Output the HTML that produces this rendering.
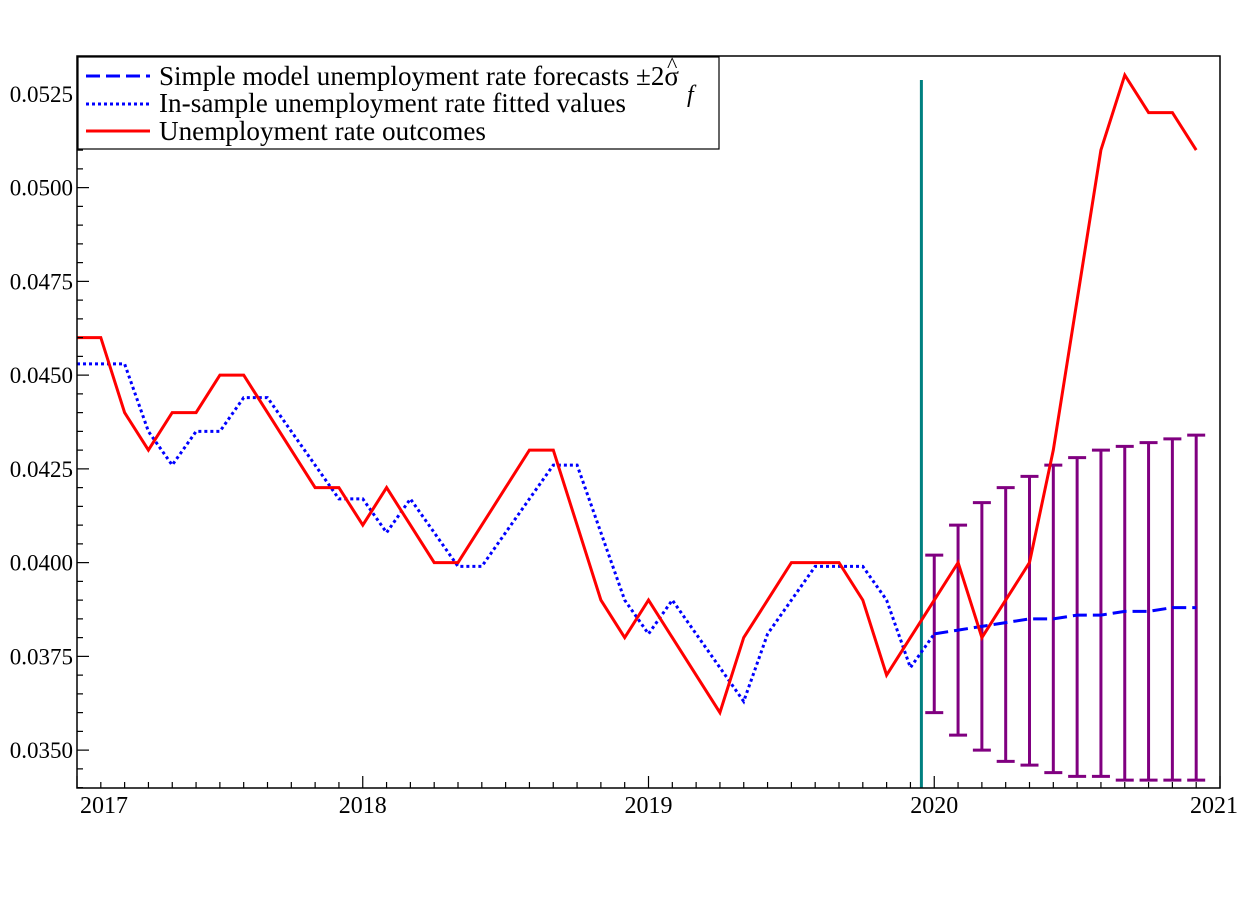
<!DOCTYPE html>
<html><head><meta charset="utf-8"><style>
html,body{margin:0;padding:0;background:#fff;}
svg{display:block;font-family:"Liberation Serif",serif;}
</style></head><body>
<svg id="chart" width="1260" height="901" xmlns="http://www.w3.org/2000/svg">
<rect width="1260" height="901" fill="#fff"/>
<g id="marks"></g>
<g id="axes"></g>
<g>
  <rect x="78" y="57" width="641" height="92" fill="#fff" stroke="#000" stroke-width="1.2"/>
  <line x1="86" y1="76" x2="150" y2="76" stroke="#0000ff" stroke-width="3" stroke-dasharray="14,6"/>
  <text x="159" y="85" font-size="27" textLength="520" lengthAdjust="spacingAndGlyphs">Simple model unemployment rate forecasts ±2σ</text>
  <text x="667" y="72" font-size="22">^</text>
  <text x="687" y="102" font-size="24" font-style="italic">f</text>
  <line x1="86" y1="104" x2="150" y2="104" stroke="#0000ff" stroke-width="3" stroke-dasharray="3,3"/>
  <text x="159" y="112" font-size="27" textLength="467" lengthAdjust="spacingAndGlyphs">In-sample unemployment rate fitted values</text>
  <line x1="86" y1="131" x2="150" y2="131" stroke="#ff0000" stroke-width="3"/>
  <text x="159" y="140" font-size="27" textLength="327" lengthAdjust="spacingAndGlyphs">Unemployment rate outcomes</text>
</g>
</svg>
<script>
const outcomes=[0.046,0.046,0.044,0.043,0.044,0.044,0.045,0.045,0.044,0.043,0.042,0.042,
0.041,0.042,0.041,0.040,0.040,0.041,0.042,0.043,0.043,0.041,0.039,0.038,
0.039,0.038,0.037,0.036,0.038,0.039,0.040,0.040,0.040,0.039,0.037,0.038,
0.039,0.040,0.038,0.039,0.040,0.043,0.047,0.051,0.053,0.052,0.052,0.051];
const fitted=[0.0453,0.0453,0.0453,0.0435,0.0426,0.0435,0.0435,0.0444,0.0444,0.0435,0.0426,0.0417,
0.0417,0.0408,0.0417,0.0408,0.0399,0.0399,0.0408,0.0417,0.0426,0.0426,0.0408,0.0390,
0.0381,0.0390,0.0381,0.0372,0.0363,0.0381,0.0390,0.0399,0.0399,0.0399,0.0390,0.0372,0.0381];
const forecast=[0.0381,0.0382,0.0383,0.0384,0.0385,0.0385,0.0386,0.0386,0.0387,0.0387,0.0388,0.0388];
const upperBand=[0.0402,0.0410,0.0416,0.0420,0.0423,0.0426,0.0428,0.0430,0.0431,0.0432,0.0433,0.0434];
const lowerBand=[0.0360,0.0354,0.0350,0.0347,0.0346,0.0344,0.0343,0.0343,0.0342,0.0342,0.0342,0.0342];
const yTicks=[0.0350,0.0375,0.0400,0.0425,0.0450,0.0475,0.0500,0.0525];
const yTickLabels=["0.0350","0.0375","0.0400","0.0425","0.0450","0.0475","0.0500","0.0525"];
const xTicks=[2017,2018,2019,2020,2021];
const startYear=2017, forecastStart=2020, splitDate=2019.955;

const L=77,R=1220,T=56,B=788;
const xMin=2017,xMax=2021,yMin=0.03399,yMax=0.05351;
const sx=v=>L+(v-xMin)/(xMax-xMin)*(R-L);
const sy=v=>B-(v-yMin)/(yMax-yMin)*(B-T);
const NS="http://www.w3.org/2000/svg";
function mk(tag,attrs,parent){const e=document.createElementNS(NS,tag);for(const k in attrs)e.setAttribute(k,attrs[k]);parent.appendChild(e);return e;}
const marks=document.getElementById('marks'),axes=document.getElementById('axes');
const md=i=>startYear+i/12;
function poly(vals,t0,stroke,w,dash,name){
  const pts=vals.map((v,i)=>sx(t0+i/12).toFixed(1)+","+sy(v).toFixed(1)).join(" ");
  const p=mk('polyline',{points:pts,fill:'none',stroke:stroke,'stroke-width':w,'stroke-linejoin':'miter'},marks);
  if(dash)p.setAttribute('stroke-dasharray',dash);
  
  
}
upperBand.forEach((u,i)=>{
  const x=sx(forecastStart+i/12);
  const g=mk('g',{stroke:'#800080','stroke-width':3},marks);
  
  
  mk('line',{x1:x,y1:sy(u),x2:x,y2:sy(lowerBand[i])},g);
  mk('line',{x1:x-9,y1:sy(u),x2:x+9,y2:sy(u)},g);
  mk('line',{x1:x-9,y1:sy(lowerBand[i]),x2:x+9,y2:sy(lowerBand[i])},g);
});
const sl=mk('line',{x1:sx(splitDate),x2:sx(splitDate),y1:80,y2:B,stroke:'#008080','stroke-width':3},marks);


poly(fitted,startYear,'#0000ff',3,'3,3','fitted-values-line');
poly(forecast,forecastStart,'#0000ff',3,'14,6','forecast-line');
poly(outcomes,startYear,'#ff0000',3,null,'outcomes-line');
const fr=mk('rect',{x:L,y:T,width:R-L,height:B-T,fill:'none',stroke:'#000','stroke-width':1.5},axes);


for(let v=0.0340;v<=0.0535+1e-9;v+=0.0005){
  const y=sy(v);if(y<T||y>B)continue;
  const major=yTicks.some(t=>Math.abs(t-v)<1e-7);
  mk('line',{x1:L,x2:L+(major?12:6),y1:y,y2:y,stroke:'#000','stroke-width':1.2},axes);
}
yTicks.forEach((v,i)=>{
  const t=mk('text',{x:L-4,y:sy(v)+8,'font-size':23,'text-anchor':'end'},axes);
  t.textContent=yTickLabels[i];
  
  
});
for(let m=0;m<=48;m++){
  const x=sx(md(m));const major=m%12===0;
  mk('line',{x1:x,x2:x,y1:B,y2:B-(major?12:6),stroke:'#000','stroke-width':1.2},axes);
}
xTicks.forEach((v,i)=>{
  const x=i===xTicks.length-1?sx(v)-6:(i===0?sx(v)+27:sx(v));
  const t=mk('text',{x:x,y:B+25,'font-size':24,'text-anchor':'middle'},axes);
  t.textContent=String(v);
  
  
});
</script>
</body></html>
